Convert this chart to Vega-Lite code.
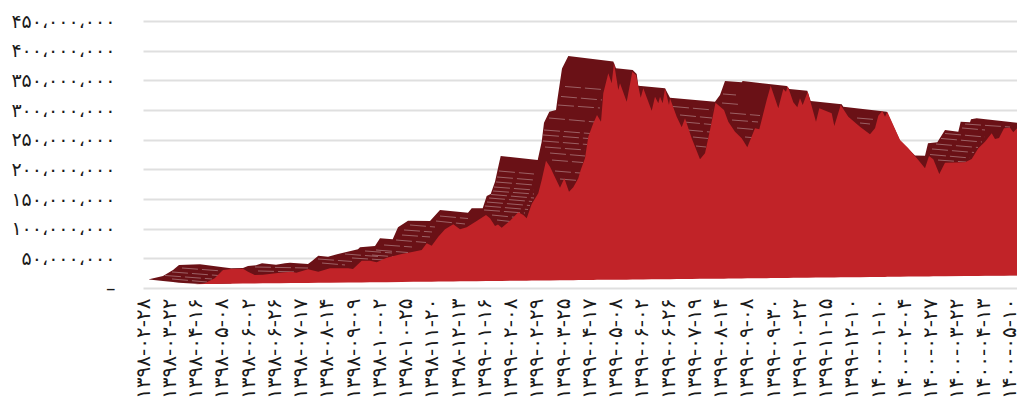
{
"$schema":"https://vega.github.io/schema/vega-lite/v6.json",
"width":874,"height":267,
"autosize":{"type":"none"},
"padding":{"left":143,"top":21,"right":0,"bottom":114},
"background":"#ffffff",
"config":{"view":{"stroke":null}},
"datasets":{
"high":[
{"t":6,"v":14700000,"low":14300000},{"t":20,"v":20200000,"low":11800000},{"t":30,"v":30300000,"low":10100000},{"t":36,"v":38800000,"low":8800000},{"t":57,"v":39900000,"low":6700000},{"t":80,"v":34900000,"low":7000000},{"t":88,"v":33200000,"low":7500000},{"t":100,"v":33700000,"low":21500000},{"t":105,"v":37100000,"low":21500000},{"t":113,"v":38300000,"low":21500000},{"t":119,"v":41600000,"low":21500000},{"t":133,"v":39300000,"low":21500000},{"t":142,"v":41600000,"low":21500000},{"t":147,"v":42600000,"low":21500000},{"t":165,"v":40400000,"low":21500000},{"t":169,"v":45500000,"low":21500000},{"t":175.3,"v":54400000,"low":21500000},{"t":185,"v":52800000,"low":21500000},{"t":195,"v":57300000,"low":21500000},{"t":215,"v":65200000,"low":21500000},{"t":217,"v":68600000,"low":21500000},{"t":232,"v":70800000,"low":21500000},{"t":237,"v":83800000,"low":21500000},{"t":249.7,"v":82100000,"low":21500000},{"t":255,"v":102300000,"low":21500000},{"t":265,"v":113400000,"low":21500000},{"t":287,"v":112900000,"low":21500000},{"t":297,"v":131500000,"low":21500000},{"t":325,"v":126900000,"low":21500000},{"t":328.7,"v":134300000,"low":21500000},{"t":339.7,"v":134300000,"low":21500000},{"t":343.7,"v":155100000,"low":21500000},{"t":347.7,"v":158400000,"low":21500000},{"t":352,"v":179200000,"low":21500000},{"t":355,"v":202200000,"low":21500000},{"t":357.7,"v":222500000,"low":21500000},{"t":394.7,"v":215700000,"low":21500000},{"t":398.7,"v":246600000,"low":21500000},{"t":401,"v":278600000,"low":21500000},{"t":406.3,"v":297100000,"low":21500000},{"t":413,"v":300000000,"low":21500000},{"t":414.3,"v":316900000,"low":21500000},{"t":419,"v":369900000,"low":21500000},{"t":425.3,"v":391000000,"low":21500000},{"t":470.3,"v":381700000,"low":21500000},{"t":473,"v":370300000,"low":21500000},{"t":489.7,"v":367400000,"low":21500000},{"t":493.7,"v":360700000,"low":21500000},{"t":495.3,"v":341000000,"low":21500000},{"t":522,"v":336600000,"low":21500000},{"t":527,"v":320700000,"low":21500000},{"t":572,"v":314000000,"low":21500000},{"t":577,"v":325300000,"low":21500000},{"t":582,"v":348900000,"low":21500000},{"t":598.7,"v":346700000,"low":21500000},{"t":599.7,"v":348900000,"low":21500000},{"t":643.7,"v":340500000,"low":21500000},{"t":646.3,"v":335400000,"low":21500000},{"t":664.3,"v":332500000,"low":21500000},{"t":667.7,"v":315200000,"low":21500000},{"t":698.7,"v":309600000,"low":21500000},{"t":700.3,"v":305600000,"low":21500000},{"t":743.7,"v":297100000,"low":21500000},{"t":757,"v":248600000,"low":21500000},{"t":772,"v":223300000,"low":21500000},{"t":782,"v":223000000,"low":21500000},{"t":785,"v":243900000,"low":21500000},{"t":794.3,"v":245600000,"low":21500000},{"t":802,"v":266300000,"low":21500000},{"t":815.3,"v":263400000,"low":21500000},{"t":817.7,"v":280300000,"low":21500000},{"t":827,"v":279300000,"low":21500000},{"t":828,"v":284300000,"low":21500000},{"t":833.7,"v":286000000,"low":21500000},{"t":874,"v":278600000,"low":21500000}
],
"price":[
{"t":52,"v":6200000,"b":6200000},{"t":61.7,"v":7900000,"b":6700000},{"t":71.7,"v":16300000,"b":6900000},{"t":80,"v":30300000,"b":7000000},{"t":88,"v":32000000,"b":7200000},{"t":100,"v":32500000,"b":7400000},{"t":105,"v":27500000,"b":7500000},{"t":111.7,"v":21900000,"b":7600000},{"t":120,"v":22400000,"b":7800000},{"t":136.7,"v":25800000,"b":8100000},{"t":148.3,"v":27500000,"b":8300000},{"t":153.3,"v":25800000,"b":8400000},{"t":165,"v":31500000,"b":8500000},{"t":175.3,"v":27500000,"b":8700000},{"t":187,"v":33200000,"b":8900000},{"t":205.3,"v":33200000,"b":9200000},{"t":210,"v":32000000,"b":9300000},{"t":218.7,"v":46000000,"b":9400000},{"t":227,"v":46000000,"b":9600000},{"t":233.7,"v":43300000,"b":9700000},{"t":243.7,"v":51100000,"b":9900000},{"t":258.7,"v":57300000,"b":10200000},{"t":270.3,"v":61200000,"b":10400000},{"t":278.7,"v":64000000,"b":10500000},{"t":283.7,"v":75300000,"b":10600000},{"t":288.7,"v":71300000,"b":10700000},{"t":295.3,"v":86500000,"b":10800000},{"t":302,"v":98900000,"b":10900000},{"t":310.3,"v":107400000,"b":11100000},{"t":317,"v":98900000,"b":11200000},{"t":323.7,"v":102300000,"b":11300000},{"t":333.7,"v":112900000,"b":11500000},{"t":343,"v":123000000,"b":11700000},{"t":347,"v":117500000,"b":11700000},{"t":352,"v":104500000,"b":11800000},{"t":355,"v":107000000,"b":11900000},{"t":358.7,"v":101600000,"b":11900000},{"t":367,"v":113400000,"b":12100000},{"t":375.3,"v":127600000,"b":12200000},{"t":380.3,"v":123000000,"b":12300000},{"t":383.7,"v":117500000,"b":12400000},{"t":388.7,"v":141600000,"b":12500000},{"t":395.3,"v":159600000,"b":12600000},{"t":398.7,"v":182000000,"b":12700000},{"t":403,"v":214500000,"b":12700000},{"t":407,"v":204400000,"b":12800000},{"t":417,"v":169000000,"b":13000000},{"t":421.3,"v":184900000,"b":13100000},{"t":426,"v":162300000,"b":13200000},{"t":430.3,"v":169700000,"b":13200000},{"t":435.3,"v":184900000,"b":13300000},{"t":437.7,"v":198900000,"b":13300000},{"t":442,"v":218600000,"b":13400000},{"t":445.3,"v":255000000,"b":13500000},{"t":450.3,"v":277600000,"b":13600000},{"t":454,"v":291600000,"b":13700000},{"t":458,"v":280300000,"b":13700000},{"t":460.3,"v":328100000,"b":13800000},{"t":465.3,"v":361900000,"b":13800000},{"t":468.7,"v":345000000,"b":13900000},{"t":471,"v":379700000,"b":13900000},{"t":475.3,"v":333700000,"b":14000000},{"t":477,"v":345000000,"b":14000000},{"t":483.7,"v":314000000,"b":14100000},{"t":489.3,"v":364600000,"b":14200000},{"t":493,"v":359000000,"b":14300000},{"t":497.7,"v":320700000,"b":14400000},{"t":500.3,"v":336600000,"b":14400000},{"t":508.7,"v":298800000,"b":14600000},{"t":512,"v":322400000,"b":14600000},{"t":515.3,"v":311300000,"b":14700000},{"t":517,"v":322400000,"b":14700000},{"t":519.7,"v":311300000,"b":14800000},{"t":522,"v":336600000,"b":14800000},{"t":526,"v":308400000,"b":14900000},{"t":527,"v":319700000,"b":14900000},{"t":533.7,"v":288700000,"b":15000000},{"t":538.7,"v":270800000,"b":15100000},{"t":542,"v":286000000,"b":15100000},{"t":548.7,"v":252300000,"b":15300000},{"t":557,"v":216900000,"b":15400000},{"t":562,"v":227000000,"b":15500000},{"t":567,"v":266300000,"b":15600000},{"t":572.5,"v":312300000,"b":15700000},{"t":581,"v":300000000,"b":15800000},{"t":585.3,"v":280300000,"b":15900000},{"t":592,"v":263400000,"b":16000000},{"t":598.7,"v":252300000,"b":16200000},{"t":604.3,"v":237100000,"b":16300000},{"t":612,"v":269200000,"b":16400000},{"t":616.3,"v":267500000,"b":16500000},{"t":623.7,"v":316900000,"b":16600000},{"t":627.7,"v":341000000,"b":16700000},{"t":635.3,"v":302900000,"b":16800000},{"t":640.3,"v":335400000,"b":16900000},{"t":643,"v":330800000,"b":17000000},{"t":644.7,"v":340500000,"b":17000000},{"t":650.3,"v":313000000,"b":17100000},{"t":654.3,"v":304500000,"b":17200000},{"t":657,"v":319700000,"b":17200000},{"t":659.7,"v":308400000,"b":17300000},{"t":664.7,"v":330800000,"b":17400000},{"t":673,"v":280300000,"b":17500000},{"t":676.3,"v":302900000,"b":17500000},{"t":688.7,"v":294400000,"b":17800000},{"t":691.3,"v":273000000,"b":17800000},{"t":697.7,"v":308400000,"b":18000000},{"t":705.3,"v":288700000,"b":18100000},{"t":717,"v":271900000,"b":18300000},{"t":727,"v":259000000,"b":18400000},{"t":732,"v":269200000,"b":18500000},{"t":735.3,"v":290400000,"b":18600000},{"t":739.3,"v":298300000,"b":18700000},{"t":742,"v":288700000,"b":18700000},{"t":744.3,"v":297100000,"b":18800000},{"t":757,"v":249400000,"b":19000000},{"t":765.3,"v":235400000,"b":19200000},{"t":775.3,"v":215700000,"b":19300000},{"t":782,"v":201700000,"b":19500000},{"t":786,"v":222500000,"b":19500000},{"t":790.3,"v":216900000,"b":19600000},{"t":796.3,"v":192100000,"b":19700000},{"t":802,"v":211200000,"b":19800000},{"t":822,"v":211900000,"b":20100000},{"t":828.7,"v":217400000,"b":20300000},{"t":835.3,"v":235400000,"b":20400000},{"t":842,"v":246600000,"b":20500000},{"t":848.7,"v":260700000,"b":20600000},{"t":852,"v":251100000,"b":20700000},{"t":856,"v":252800000,"b":20700000},{"t":861,"v":269200000,"b":20800000},{"t":867,"v":270200000,"b":20900000},{"t":870.3,"v":262400000,"b":20900000},{"t":874,"v":269200000,"b":21000000}
],
"stripes":[
{"t1":39,"v1":33700000,"t2":79,"v2":28700000},{"t1":29,"v1":27000000,"t2":75,"v2":21100000},{"t1":22,"v1":21100000,"t2":69,"v2":15200000},{"t1":29,"v1":15200000,"t2":64,"v2":10100000},{"t1":112,"v1":35400000,"t2":165,"v2":33700000},{"t1":115,"v1":28700000,"t2":155,"v2":27000000},{"t1":175,"v1":48900000,"t2":209,"v2":44700000},{"t1":179,"v1":42100000,"t2":202,"v2":38800000},{"t1":202,"v1":57300000,"t2":235,"v2":53100000},{"t1":209,"v1":50600000,"t2":242,"v2":47200000},{"t1":222,"v1":62400000,"t2":249,"v2":59000000},{"t1":241,"v1":72500000,"t2":269,"v2":69100000},{"t1":233,"v1":64000000,"t2":265,"v2":59800000},{"t1":229,"v1":55600000,"t2":255,"v2":52200000},{"t1":253,"v1":80900000,"t2":283,"v2":76700000},{"t1":259,"v1":89300000,"t2":287,"v2":86000000},{"t1":261,"v1":97800000,"t2":289,"v2":94400000},{"t1":267,"v1":106200000,"t2":292,"v2":102800000},{"t1":293,"v1":112900000,"t2":322,"v2":107900000},{"t1":297,"v1":121300000,"t2":325,"v2":117100000},
{"t1":356,"v1":197200000,"t2":391,"v2":192100000},{"t1":354,"v1":187100000,"t2":391,"v2":182000000},{"t1":353,"v1":178700000,"t2":391,"v2":173600000},{"t1":351,"v1":170200000,"t2":391,"v2":165200000},{"t1":350,"v1":163500000,"t2":391,"v2":158400000},{"t1":348,"v1":157600000,"t2":391,"v2":151700000},{"t1":346,"v1":151700000,"t2":389,"v2":145800000},{"t1":344,"v1":144900000,"t2":387,"v2":139000000},{"t1":342,"v1":138200000,"t2":385,"v2":132300000},{"t1":341,"v1":131500000,"t2":382,"v2":126400000},{"t1":349,"v1":123000000,"t2":379,"v2":118000000},{"t1":354,"v1":114600000,"t2":372,"v2":111200000},
{"t1":406,"v1":286500000,"t2":452,"v2":279800000},{"t1":401,"v1":266300000,"t2":447,"v2":260400000},{"t1":400,"v1":257900000,"t2":445,"v2":252000000},{"t1":400,"v1":247800000,"t2":444,"v2":241900000},{"t1":402,"v1":237600000,"t2":442,"v2":232600000},{"t1":407,"v1":227500000,"t2":442,"v2":222500000},{"t1":409,"v1":215700000,"t2":440,"v2":211500000},{"t1":412,"v1":197200000,"t2":437,"v2":193800000},{"t1":417,"v1":183700000,"t2":435,"v2":181200000},{"t1":422,"v1":339600000,"t2":460,"v2":334500000},{"t1":418,"v1":322800000,"t2":459,"v2":316900000},{"t1":415,"v1":308400000,"t2":457,"v2":303400000},
{"t1":530,"v1":305900000,"t2":570,"v2":300000000},{"t1":537,"v1":291600000,"t2":569,"v2":286500000},{"t1":541,"v1":279800000,"t2":568,"v2":275600000},{"t1":544,"v1":266300000,"t2":567,"v2":262900000},{"t1":550,"v1":254500000,"t2":565,"v2":252000000},{"t1":553,"v1":239300000,"t2":563,"v2":237600000},{"t1":580,"v1":327000000,"t2":593,"v2":325300000},{"t1":579,"v1":311800000,"t2":597,"v2":309300000},{"t1":587,"v1":294900000,"t2":617,"v2":290700000},{"t1":589,"v1":283100000,"t2":615,"v2":279800000},{"t1":594,"v1":269700000,"t2":612,"v2":267100000},{"t1":602,"v1":254500000,"t2":610,"v2":253300000},
{"t1":822,"v1":276400000,"t2":867,"v2":271300000},{"t1":819,"v1":269700000,"t2":842,"v2":266300000},{"t1":802,"v1":260400000,"t2":842,"v2":254500000},{"t1":798,"v1":252000000,"t2":839,"v2":246100000},{"t1":793,"v1":242700000,"t2":835,"v2":236800000},{"t1":789,"v1":234300000,"t2":831,"v2":228400000},{"t1":787,"v1":225000000,"t2":827,"v2":219100000},{"t1":795,"v1":215700000,"t2":823,"v2":212300000},{"t1":714,"v1":286500000,"t2":732,"v2":284000000},{"t1":717,"v1":278100000,"t2":727,"v2":276400000}
]
},
"encoding":{
"x":{"field":"t","type":"quantitative","scale":{"domain":[0,874],"nice":false,"zero":false},
"axis":{"title":null,"grid":false,"domain":false,"ticks":false,"labelAngle":-90,"labelAlign":"right","labelBaseline":"middle","labelPadding":10,"labelFont":"DejaVu Sans","labelFontSize":20,"labelColor":"#1a1a1a","labelLimit":300,"labelOverlap":false,"labelBound":false,"labelFlush":false,
"values":[0,26.25,52.5,78.75,105,131.25,157.5,183.75,210,236.25,262.5,288.75,315,341.25,367.5,393.75,420,446.25,472.5,498.75,525,551.25,577.5,603.75,630,656.25,682.5,708.75,735,761.25,787.5,813.75,840,866.25],
"labelExpr":"['۱۳۹۸-۰۲-۲۸','۱۳۹۸-۰۳-۲۲','۱۳۹۸-۰۴-۱۶','۱۳۹۸-۰۵-۰۸','۱۳۹۸-۰۶-۰۲','۱۳۹۸-۰۶-۲۶','۱۳۹۸-۰۷-۱۷','۱۳۹۸-۰۸-۱۴','۱۳۹۸-۰۹-۰۹','۱۳۹۸-۱۰-۰۲','۱۳۹۸-۱۰-۲۵','۱۳۹۸-۱۱-۲۰','۱۳۹۸-۱۲-۱۳','۱۳۹۹-۰۱-۱۶','۱۳۹۹-۰۲-۰۸','۱۳۹۹-۰۲-۲۹','۱۳۹۹-۰۳-۲۵','۱۳۹۹-۰۴-۱۷','۱۳۹۹-۰۵-۰۸','۱۳۹۹-۰۶-۰۲','۱۳۹۹-۰۶-۲۶','۱۳۹۹-۰۷-۱۹','۱۳۹۹-۰۸-۱۴','۱۳۹۹-۰۹-۰۸','۱۳۹۹-۰۹-۳۰','۱۳۹۹-۱۰-۲۲','۱۳۹۹-۱۱-۱۵','۱۳۹۹-۱۲-۱۰','۱۴۰۰-۰۱-۱۰','۱۴۰۰-۰۲-۰۴','۱۴۰۰-۰۲-۲۷','۱۴۰۰-۰۳-۲۲','۱۴۰۰-۰۴-۱۳','۱۴۰۰-۰۵-۱۰'][round(datum.value/26.25)]"}},
"y":{"field":"v","type":"quantitative","scale":{"domain":[0,450000000],"nice":false},
"axis":{"title":null,"grid":true,"gridColor":"#dfdfdf","gridWidth":2,"domain":false,"ticks":false,"labelPadding":28,"labelFont":"DejaVu Sans","labelFontSize":19,"labelColor":"#1a1a1a","labelLimit":200,"labelOverlap":false,"labelBound":false,"labelFlush":false,
"values":[0,50000000,100000000,150000000,200000000,250000000,300000000,350000000,400000000,450000000],
"labelExpr":"['–\u00a0\u00a0','۵۰،۰۰۰،۰۰۰','۱۰۰،۰۰۰،۰۰۰','۱۵۰،۰۰۰،۰۰۰','۲۰۰،۰۰۰،۰۰۰','۲۵۰،۰۰۰،۰۰۰','۳۰۰،۰۰۰،۰۰۰','۳۵۰،۰۰۰،۰۰۰','۴۰۰،۰۰۰،۰۰۰','۴۵۰،۰۰۰،۰۰۰'][round(datum.value/50000000)]"}}
},
"layer":[
{"data":{"name":"high"},"mark":{"type":"area","color":"#6a1116","interpolate":"linear"},"encoding":{"y2":{"field":"low"}}},
{"data":{"name":"stripes"},"mark":{"type":"rule","color":"#a87578","strokeWidth":0.8,"strokeDash":[16,4]},"encoding":{"x":{"field":"t1","type":"quantitative"},"x2":{"field":"t2"},"y":{"field":"v1","type":"quantitative"},"y2":{"field":"v2"}}},
{"data":{"name":"price"},"mark":{"type":"area","color":"#c12328","interpolate":"linear"},"encoding":{"y2":{"field":"b"}}}
]
}
